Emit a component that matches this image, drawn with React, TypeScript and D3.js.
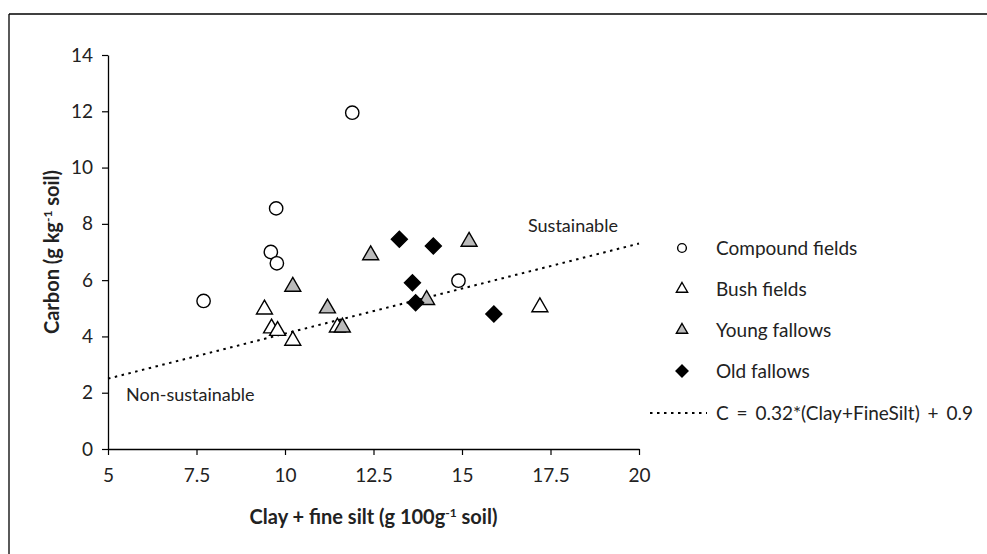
import { useEffect, useRef } from "react";
import { axisBottom, axisLeft, scaleLinear, select, ScaleLinear, line, symbol, symbolCircle, symbolTriangle, symbolSquare } from "d3";

// [clay + fine silt, carbon]
const compoundFields: [number, number][] = [
  [7.7, 5.26], [9.6, 7.0], [9.77, 6.6], [9.75, 8.55], [11.9, 11.95], [14.9, 5.98]
];
const bushFields: [number, number][] = [
  [9.42, 4.96], [9.62, 4.29], [9.79, 4.2], [10.22, 3.85], [11.48, 4.32], [17.2, 5.04]
];
const youngFallows: [number, number][] = [
  [10.22, 5.77], [11.2, 5.0], [11.62, 4.32], [12.42, 6.89], [14.0, 5.3], [15.2, 7.37]
];
const oldFallows: [number, number][] = [
  [13.23, 7.45], [14.19, 7.21], [13.6, 5.91], [13.69, 5.2], [15.9, 4.8]
];
const xTicks = [5, 7.5, 10, 12.5, 15, 17.5, 20];
const yTicks = [0, 2, 4, 6, 8, 10, 12, 14];
const slope = 0.32;
const intercept = 0.9;

const FONT = "Lato, 'Open Sans', sans-serif";
const TEXT = "#222";

interface AxisProps {
  scale: ScaleLinear<number, number>;
  transform: string;
}

function AxisBottom({ scale, transform }: AxisProps) {
  const ref = useRef<SVGGElement>(null);
  useEffect(() => {
    if (ref.current) {
      const g = select(ref.current);
      g.call(axisBottom(scale).tickValues(xTicks).tickSize(6).tickSizeOuter(0).tickFormat((d) => String(d)));
      g.select(".domain").attr("stroke", "#000").attr("stroke-width", 1.3);
      g.selectAll(".tick line").attr("stroke", "#000").attr("stroke-width", 1.2);
      g.selectAll(".tick text")
        .attr("y", 20)
        .attr("fill", TEXT)
        .style("font-family", FONT)
        .style("font-size", "19px");
    }
  }, [scale]);
  return <g ref={ref} transform={transform} />;
}

function AxisLeft({ scale, transform }: AxisProps) {
  const ref = useRef<SVGGElement>(null);
  useEffect(() => {
    if (ref.current) {
      const g = select(ref.current);
      g.call(axisLeft(scale).tickValues(yTicks).tickSize(6).tickSizeOuter(0));
      g.select(".domain").attr("stroke", "#000").attr("stroke-width", 1.3);
      g.selectAll(".tick line").attr("stroke", "#000").attr("stroke-width", 1.2);
      g.selectAll(".tick text")
        .attr("x", -15)
        .attr("fill", TEXT)
        .style("font-family", FONT)
        .style("font-size", "19px");
    }
  }, [scale]);
  return <g ref={ref} transform={transform} />;
}

export default function App() {
  const x = scaleLinear().domain([5, 20]).range([108, 639]);
  const y = scaleLinear().domain([0, 14]).range([449, 55]);

  const circle = symbol().type(symbolCircle).size(140)()!;
  const tri = symbol().type(symbolTriangle).size(110)()!;
  const diamond = symbol().type(symbolSquare).size(128)()!;
  const circleSm = symbol().type(symbolCircle).size(60)()!;
  const triSm = symbol().type(symbolTriangle).size(55)()!;
  const diamondSm = symbol().type(symbolSquare).size(72)()!;

  const trend = line<number>()
    .x((d) => x(d))
    .y((d) => y(slope * d + intercept))([5, 20])!;

  const legendX = 682;
  const legendText = 716;
  const legendRows = [248, 289, 330, 371, 413];
  const legendItems = [
    { label: "Compound fields", path: circleSm, fill: "#fff", rot: 0 },
    { label: "Bush fields", path: triSm, fill: "#fff", rot: 0 },
    { label: "Young fallows", path: triSm, fill: "#bbb", rot: 0 },
    { label: "Old fallows", path: diamondSm, fill: "#000", rot: 45 }
  ];

  return (
    <svg width={987} height={554} style={{ position: "absolute", left: 0, top: 0, background: "#fff" }}>
      <line x1={9} y1={14} x2={987} y2={14} stroke="#000" strokeWidth={1.3} />
      <line x1={9} y1={14} x2={9} y2={554} stroke="#000" strokeWidth={1.3} />

      <AxisBottom scale={x} transform={`translate(0, ${y(0)})`} />
      <AxisLeft scale={y} transform={`translate(${x(5)}, 0)`} />

      <path d={trend} stroke="#000" strokeWidth={2} strokeDasharray="2.5,4.5" fill="none" />

      <g stroke="#000" strokeWidth={1.4}>
        {bushFields.map(([a, b], i) => (
          <path key={`b${i}`} d={tri} transform={`translate(${x(a)},${y(b)})`} fill="#fff" />
        ))}
        {youngFallows.map(([a, b], i) => (
          <path key={`y${i}`} d={tri} transform={`translate(${x(a)},${y(b)})`} fill="#bbb" />
        ))}
        {compoundFields.map(([a, b], i) => (
          <path key={`c${i}`} d={circle} transform={`translate(${x(a)},${y(b)})`} fill="#fff" />
        ))}
        {oldFallows.map(([a, b], i) => (
          <path key={`o${i}`} d={diamond} transform={`translate(${x(a)},${y(b)}) rotate(45)`} fill="#000" />
        ))}
      </g>

      <g fontFamily={FONT} fontSize={18} fill={TEXT}>
        <text x={528} y={232}>Sustainable</text>
        <text x={126} y={401}>Non-sustainable</text>
      </g>

      <g fontFamily={FONT} fontSize={19} fill={TEXT}>
        {legendItems.map((d, i) => (
          <g key={d.label}>
            <path d={d.path} transform={`translate(${legendX},${legendRows[i]}) rotate(${d.rot})`} fill={d.fill} stroke="#000" strokeWidth={1.4} />
            <text x={legendText} y={legendRows[i]} dy="0.35em">{d.label}</text>
          </g>
        ))}
        <line x1={650} x2={707} y1={legendRows[4]} y2={legendRows[4]} stroke="#000" strokeWidth={2} strokeDasharray="2.5,4.5" />
        <text x={legendText} y={legendRows[4]} dy="0.35em" wordSpacing={3}>C = 0.32*(Clay+FineSilt) + 0.9</text>
      </g>

      <text x={373.5} y={524} textAnchor="middle" fontFamily={FONT} fontSize={20} fontWeight="bold" fill={TEXT}>
        Clay + fine silt (g 100g<tspan dy={-7} fontSize={12}>-1</tspan><tspan dy={7}> soil)</tspan>
      </text>
      <text transform={`translate(52, ${(y(0) + y(14)) / 2}) rotate(-90)`} textAnchor="middle" dy="0.35em" fontFamily={FONT} fontSize={20} fontWeight="bold" fill={TEXT}>
        Carbon (g kg<tspan dy={-7} fontSize={12}>-1</tspan><tspan dy={7}> soil)</tspan>
      </text>
    </svg>
  );
}
